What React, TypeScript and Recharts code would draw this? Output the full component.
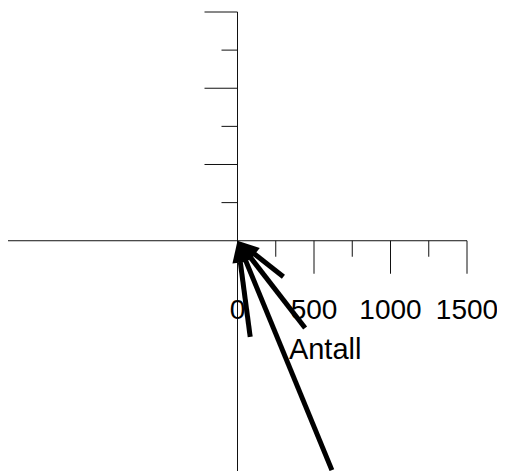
import React from 'react';
import { ScatterChart, XAxis, YAxis, ReferenceLine, ReferenceDot } from 'recharts';

// Axis extents (data units)
const X_DOMAIN: [number, number] = [-1500, 1500];
const Y_DOMAIN: [number, number] = [-1510, 1500];

// Tick positions along the positive half of each axis
const X_TICKS = [250, 500, 750, 1000, 1250, 1500];
const Y_TICKS = [250, 500, 750, 1000, 1250, 1500];
const X_TICK_LABELS = [0, 500, 1000, 1500];
const X_TITLE = 'Antall';

// Loading vectors (tip coordinates)
const VECTOR_X = [300, 442, 83, 617];
const VECTOR_Y = [-236, -572, -630, -1504];

const vectors = VECTOR_X.map((x, i) => ({ x, y: VECTOR_Y[i] }));

const FONT = "'Liberation Sans', Arial, Helvetica, sans-serif";
const LONG_TICK = 33;
const SHORT_TICK = 16;
const LABEL_DROP = 78;

const isMajor = (v: number) => v % 500 === 0;

const XTickMark = (v: number) => (p: any) => {
  const len = isMajor(v) ? LONG_TICK : SHORT_TICK;
  return <line x1={p.cx} y1={p.cy} x2={p.cx} y2={p.cy + len} stroke="#111" strokeWidth={1} />;
};

const YTickMark = (v: number) => (p: any) => {
  const len = isMajor(v) ? LONG_TICK : SHORT_TICK;
  return <line x1={p.cx} y1={p.cy} x2={p.cx - len} y2={p.cy} stroke="#111" strokeWidth={1} />;
};

const TickLabel = (text: string) => (p: any) => (
  <text
    x={p.cx}
    y={p.cy + LABEL_DROP}
    textAnchor="middle"
    fontFamily={FONT}
    fontSize={28}
    fill="#000"
  >
    {text}
  </text>
);

const TitleLabel = (p: any) => (
  <text
    x={p.cx}
    y={p.cy + 118}
    textAnchor="middle"
    fontFamily={FONT}
    fontSize={29}
    fill="#000"
  >
    {X_TITLE}
  </text>
);

// Thick shaft with a filled arrowhead pointing at the origin (x2, y2)
const Arrow = (p: any) => {
  const { x1, y1, x2, y2 } = p;
  const dx = x1 - x2;
  const dy = y1 - y2;
  const d = Math.hypot(dx, dy) || 1;
  const ux = dx / d;
  const uy = dy / d;
  const head = 22;
  const half = 8;
  const bx = x2 + ux * head;
  const by = y2 + uy * head;
  const pts = [
    `${x2},${y2}`,
    `${bx - uy * half},${by + ux * half}`,
    `${bx + uy * half},${by - ux * half}`,
  ].join(' ');
  return (
    <g>
      <line x1={x1} y1={y1} x2={bx} y2={by} stroke="#000" strokeWidth={5} />
      <polygon points={pts} fill="#000" />
    </g>
  );
};

export default function App() {
  return (
    <ScatterChart width={497} height={463} margin={{ top: 4, right: 38, bottom: 0, left: 0 }}>
      <XAxis type="number" dataKey="x" domain={X_DOMAIN} hide allowDataOverflow />
      <YAxis type="number" dataKey="y" domain={Y_DOMAIN} hide allowDataOverflow />

      {/* axis lines through the origin */}
      <ReferenceLine
        segment={[{ x: X_DOMAIN[0], y: 0 }, { x: X_DOMAIN[1], y: 0 }]}
        stroke="#111"
        strokeWidth={1}
        ifOverflow="visible"
      />
      <ReferenceLine
        segment={[{ x: 0, y: Y_DOMAIN[0] }, { x: 0, y: Y_DOMAIN[1] }]}
        stroke="#111"
        strokeWidth={1}
        ifOverflow="visible"
      />

      {X_TICKS.map((v) => (
        <ReferenceDot key={`xt${v}`} x={v} y={0} ifOverflow="visible" shape={XTickMark(v)} />
      ))}
      {Y_TICKS.map((v) => (
        <ReferenceDot key={`yt${v}`} x={0} y={v} ifOverflow="visible" shape={YTickMark(v)} />
      ))}
      {X_TICK_LABELS.map((v) => (
        <ReferenceDot key={`xl${v}`} x={v} y={0} ifOverflow="visible" shape={TickLabel(String(v))} />
      ))}
      <ReferenceDot x={573} y={0} ifOverflow="visible" shape={TitleLabel} />

      {vectors.map((v, i) => (
        <ReferenceLine
          key={`v${i}`}
          segment={[{ x: v.x, y: v.y }, { x: 0, y: 0 }]}
          ifOverflow="visible"
          shape={Arrow}
        />
      ))}
    </ScatterChart>
  );
}
